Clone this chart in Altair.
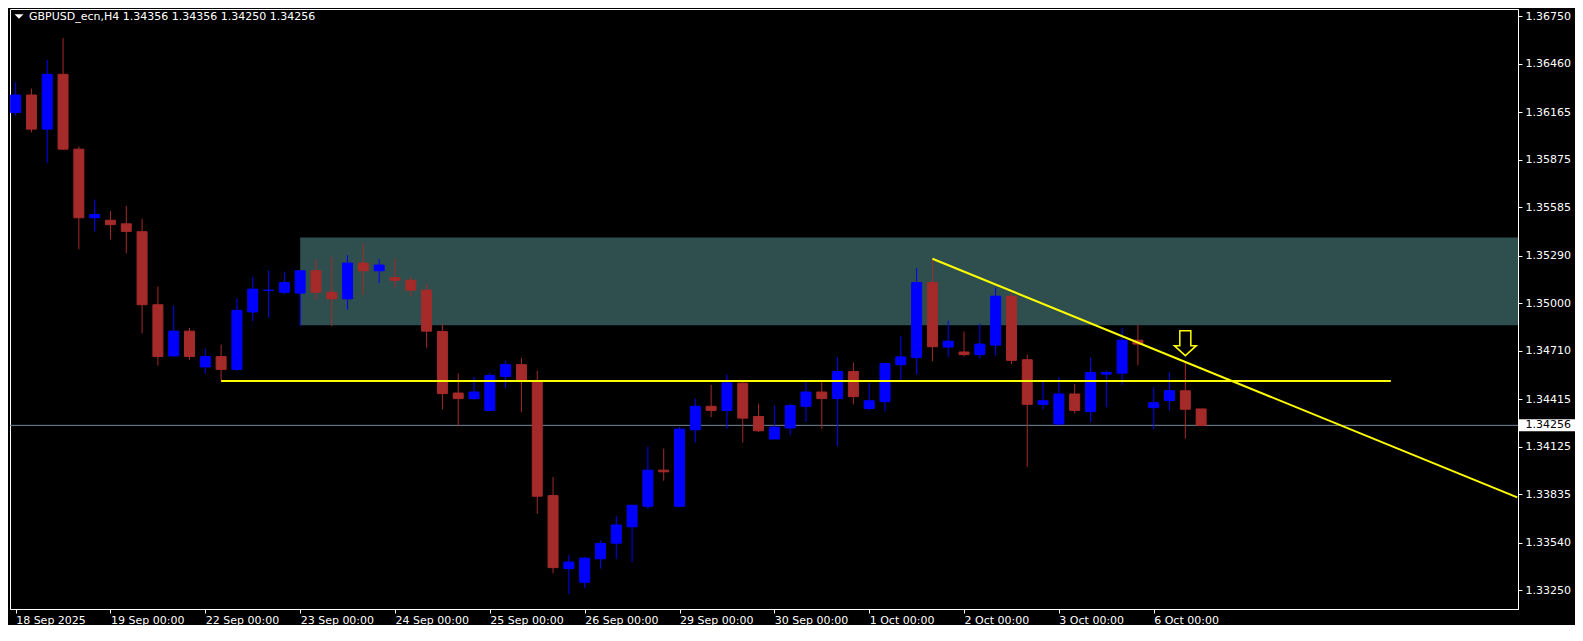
import json
import altair as alt
import pandas as pd

# ---- OHLC of the 4-hour bars, left to right (18 Sep 2025 00:00 ... 6 Oct 12:00)
opens = [1.36162, 1.36269, 1.36061, 1.36395, 1.35939, 1.35521, 1.35506, 1.35484, 1.35436, 1.34991,
         1.34679, 1.34830, 1.34612, 1.34675, 1.34597, 1.34947, 1.35078, 1.35067, 1.35062, 1.35198,
         1.35067, 1.35027, 1.35245, 1.35198, 1.35156, 1.35140, 1.35080, 1.34828, 1.34453, 1.34419,
         1.34347, 1.34554, 1.34626, 1.34526, 1.33828, 1.33383, 1.33300, 1.33443, 1.33538, 1.33638,
         1.33763, 1.33983, 1.33763, 1.34229, 1.34372, 1.34347, 1.34513, 1.34310, 1.34173, 1.34240,
         1.34372, 1.34459, 1.34419, 1.34584, 1.34359, 1.34400, 1.34626, 1.34669, 1.35126, 1.34733,
         1.34703, 1.34687, 1.34745, 1.35043, 1.34656, 1.34384, 1.34264, 1.34447, 1.34340, 1.34568,
         1.34574, 1.34775, 1.34364, 1.34407, 1.34467, 1.34356]
highs = [1.36349, 1.36308, 1.36483, 1.36616, 1.35955, 1.35632, 1.35562, 1.35593, 1.35515, 1.35102,
         1.34986, 1.34849, 1.34724, 1.34748, 1.35030, 1.35162, 1.35198, 1.35192, 1.35200, 1.35269,
         1.35283, 1.35293, 1.35366, 1.35269, 1.35273, 1.35160, 1.35119, 1.34874, 1.34572, 1.34553,
         1.34577, 1.34650, 1.34668, 1.34590, 1.33941, 1.33465, 1.33453, 1.33554, 1.33705, 1.33772,
         1.34126, 1.34114, 1.34245, 1.34419, 1.34503, 1.34566, 1.34519, 1.34388, 1.34376, 1.34388,
         1.34519, 1.34519, 1.34673, 1.34638, 1.34515, 1.34638, 1.34800, 1.35215, 1.35259, 1.34894,
         1.34828, 1.34876, 1.35096, 1.35061, 1.34687, 1.34519, 1.34549, 1.34507, 1.34669, 1.34590,
         1.34852, 1.34870, 1.34489, 1.34578, 1.34636, 1.34356]
lows = [1.36144, 1.36041, 1.35856, 1.35935, 1.35329, 1.35438, 1.35389, 1.35305, 1.34816, 1.34620,
        1.34675, 1.34656, 1.34571, 1.34526, 1.34587, 1.34891, 1.34913, 1.35055, 1.34860, 1.35021,
        1.34860, 1.34961, 1.35050, 1.35122, 1.35098, 1.35043, 1.34729, 1.34354, 1.34252, 1.34412,
        1.34347, 1.34483, 1.34336, 1.33717, 1.33354, 1.33228, 1.33264, 1.33383, 1.33443, 1.33425,
        1.33746, 1.33919, 1.33763, 1.34151, 1.34306, 1.34235, 1.34151, 1.34215, 1.34173, 1.34197,
        1.34276, 1.34235, 1.34128, 1.34384, 1.34347, 1.34340, 1.34531, 1.34566, 1.34646, 1.34673,
        1.34675, 1.34663, 1.34681, 1.34628, 1.34003, 1.34354, 1.34257, 1.34330, 1.34275, 1.34366,
        1.34503, 1.34622, 1.34231, 1.34347, 1.34175, 1.34250]
closes = [1.36269, 1.36061, 1.36395, 1.35939, 1.35521, 1.35540, 1.35479, 1.35438, 1.34991, 1.34675,
          1.34830, 1.34675, 1.34675, 1.34597, 1.34957, 1.35086, 1.35080, 1.35126, 1.35198, 1.35067,
          1.35027, 1.35245, 1.35198, 1.35233, 1.35140, 1.35080, 1.34830, 1.34449, 1.34419, 1.34459,
          1.34560, 1.34626, 1.34531, 1.33824, 1.33389, 1.33423, 1.33447, 1.33536, 1.33649, 1.33769,
          1.33983, 1.33973, 1.34233, 1.34372, 1.34347, 1.34515, 1.34300, 1.34223, 1.34245, 1.34376,
          1.34459, 1.34419, 1.34584, 1.34431, 1.34406, 1.34632, 1.34673, 1.35126, 1.34735, 1.34769,
          1.34687, 1.34751, 1.35043, 1.34652, 1.34384, 1.34406, 1.34447, 1.34347, 1.34578, 1.34578,
          1.34775, 1.34751, 1.34394, 1.34467, 1.34354, 1.34256]

tick_bars = [0, 6, 12, 18, 24, 30, 36, 42, 48, 54, 60, 66, 72]
tick_labels = ["18 Sep 2025", "19 Sep 00:00", "22 Sep 00:00", "23 Sep 00:00", "24 Sep 00:00",
               "25 Sep 00:00", "26 Sep 00:00", "29 Sep 00:00", "30 Sep 00:00", "1 Oct 00:00",
               "2 Oct 00:00", "3 Oct 00:00", "6 Oct 00:00"]
price_ticks = [1.36750, 1.36460, 1.36165, 1.35875, 1.35585, 1.35290, 1.35000,
               1.34710, 1.34415, 1.34125, 1.33835, 1.33540, 1.33250]

zone_bars = [18, 100]
zone_prices = [1.35400, 1.34866]
support_bars = [13, 87]
support_price = 1.34526
trend_bars = [58, 95]
trend_prices = [1.35271, 1.33817]
arrow_bar = 74
arrow_price = 1.34757
last_price = 1.34256
last_label = "1.34256"
title_text = "GBPUSD_ecn,H4  1.34356 1.34356 1.34250 1.34256"

# ---- layout / style
W, H = 1508, 600
X_DOMAIN = [-0.04, 94.73]
Y_DOMAIN = [1.33137, 1.36793]
FONT = "DejaVu Sans"
UP, DOWN = "#0000FF", "#A52A2A"
YELLOW = "#FFFF00"

bars = pd.DataFrame({"k": list(range(len(opens))), "o": opens, "h": highs, "l": lows, "c": closes})

xs = alt.Scale(domain=X_DOMAIN, nice=False, zero=False)
ys = alt.Scale(domain=Y_DOMAIN, nice=False, zero=False)

label_expr = f"{json.dumps(tick_labels)}[indexof({json.dumps(tick_bars)}, datum.value)]"
x_axis = alt.Axis(values=tick_bars, labelExpr=label_expr, labelAlign="left", labelPadding=1,
                  tickSize=4, labelFontSize=11, labelColor="white", tickColor="white",
                  domainColor="white", grid=False, title=None, labelOverlap=False,
                  labelFlush=False, labelBound=False, labelFont=FONT)
y_axis = alt.Axis(orient="right", values=price_ticks, format=".5f", tickSize=4, labelPadding=3,
                  labelFontSize=11, labelColor="white", tickColor="white", domainColor="white",
                  grid=False, title=None, labelOverlap=False, labelFlush=False, labelFont=FONT)


def X(field):
    return alt.X(field, scale=xs, axis=x_axis)


def Y(field):
    return alt.Y(field, scale=ys, axis=y_axis)


dir_scale = alt.Scale(domain=["up", "down"], range=[UP, DOWN])
color = alt.Color("dir:N", scale=dir_scale, legend=None)
stroke = alt.Stroke("dir:N", scale=dir_scale, legend=None)

base = alt.Chart(bars).transform_calculate(dir="datum.c >= datum.o ? 'up' : 'down'")

zone_df = pd.DataFrame({"x0": [zone_bars[0]], "x1": [zone_bars[1]],
                        "top": [zone_prices[0]], "bot": [zone_prices[1]]})
zone = alt.Chart(zone_df).mark_rect(clip=True, color="#2F4F4F").encode(
    x=X("x0:Q"), x2="x1:Q", y=Y("top:Q"), y2="bot:Q")

last_df = pd.DataFrame({"p": [last_price], "lbl": [last_label]})
price_line = alt.Chart(last_df).mark_rule(color="#778899", strokeWidth=1).encode(y=Y("p:Q"))

wicks = base.mark_rule(clip=True, strokeWidth=1).encode(
    x=X("k:Q"), y=Y("l:Q"), y2="h:Q", color=color)

bodies = base.mark_bar(clip=True, size=10, strokeWidth=1).encode(
    x=X("k:Q"), y=Y("o:Q"), y2="c:Q", color=color, stroke=stroke)

sup_df = pd.DataFrame({"x0": [support_bars[0]], "x1": [support_bars[1]], "p": [support_price]})
support = alt.Chart(sup_df).mark_rule(color=YELLOW, strokeWidth=2, clip=True).encode(
    x=X("x0:Q"), x2="x1:Q", y=Y("p:Q"))

trend_df = pd.DataFrame({"k": trend_bars, "p": trend_prices})
trend = alt.Chart(trend_df).mark_line(color=YELLOW, strokeWidth=2, clip=True).encode(
    x=X("k:Q"), y=Y("p:Q"))

arrow_path = "M -0.44 -1 L 0.44 -1 L 0.44 0.2 L 0.88 0.2 L 0 1 L -0.88 0.2 L -0.44 0.2 Z"
arrow_df = pd.DataFrame({"k": [arrow_bar], "p": [arrow_price]})
arrow = alt.Chart(arrow_df).mark_point(shape=arrow_path, size=625, filled=True, fill="black",
                                       stroke=YELLOW, strokeWidth=1.5, opacity=1).encode(
    x=X("k:Q"), y=Y("p:Q"))

title_df = pd.DataFrame({"t": [title_text]})
title = alt.Chart(title_df).mark_text(align="left", baseline="middle", color="white",
                                      fontSize=11, font=FONT).encode(
    x=alt.value(19), y=alt.value(8), text="t:N")
tri = alt.Chart(title_df).mark_point(shape="M -1 -0.5 L 1 -0.5 L 0 0.5 Z", size=81, filled=True,
                                     fill="white", strokeWidth=0, opacity=1).encode(
    x=alt.value(9), y=alt.value(7.5))

label_box = alt.Chart(last_df).mark_rect(color="white", yOffset=-6, y2Offset=6).encode(
    x=alt.value(W + 1), x2=alt.value(W + 57), y=Y("p:Q"), y2="p:Q")
label_txt = alt.Chart(last_df).mark_text(align="left", baseline="middle", color="black",
                                         fontSize=11, font=FONT).encode(
    x=alt.value(W + 7.5), y=Y("p:Q"), text="lbl:N")

chart = alt.layer(zone, price_line, wicks, bodies, support, trend, arrow, title, tri,
                  label_box, label_txt).properties(
    width=W, height=H, padding={"left": 1, "top": 1, "right": 0, "bottom": 0}
).configure(background="black", font=FONT).configure_view(stroke="white", strokeWidth=1)

chart.save("out.html", embed_options={"renderer": "svg", "actions": False})
